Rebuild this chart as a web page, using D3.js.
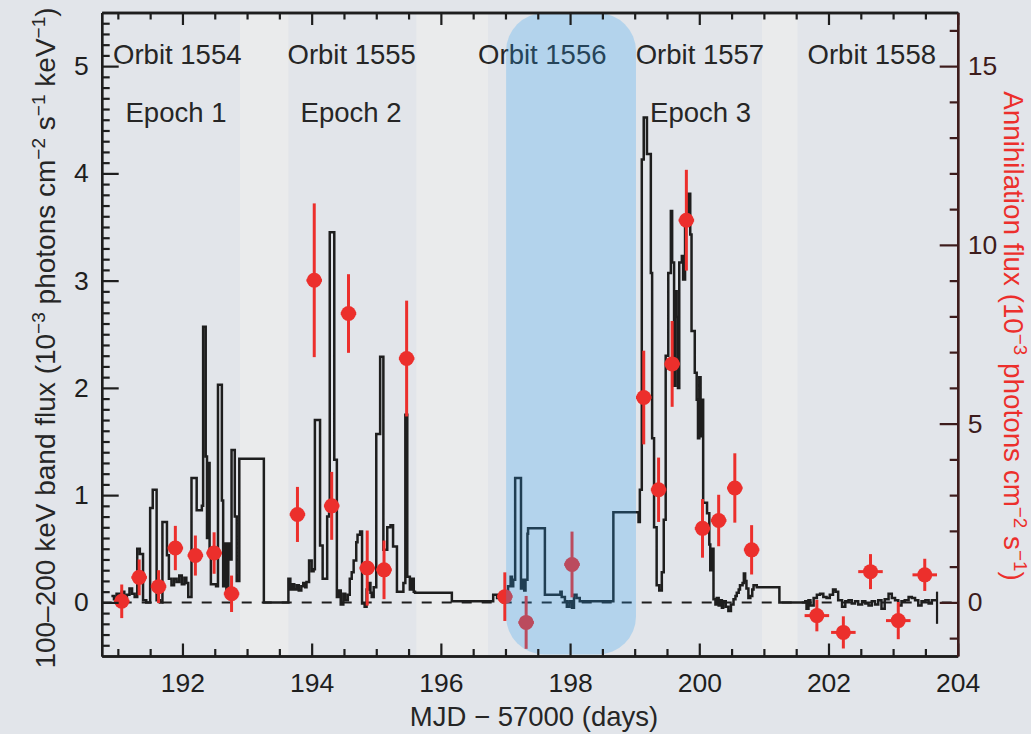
<!DOCTYPE html>
<html lang="en">
<head>
<meta charset="utf-8">
<script src="https://cdnjs.cloudflare.com/ajax/libs/d3/7.8.5/d3.min.js"></script>
<title>Light curve and annihilation flux</title>
<style>
body{margin:0;background:#e2e5ea;}
svg{display:block;font-family:"Liberation Sans",Arial,Helvetica,sans-serif;}
</style>
</head>
<body>
<div id="chart"></div>
<script>
// 100-200 keV band light curve, [MJD-57000, flux] (step bins)
const lightCurve = [
  [190.90,0.06],[190.94,0.03],[190.98,0.08],[191.02,0.05],[191.06,0.10],[191.10,0.02],[191.14,0.07],[191.18,0.13],[191.22,0.08],[191.26,0.05],
  [191.30,0.50],[191.34,0.45],[191.39,0.02],[191.44,0.00],[191.50,0.88],[191.54,1.05],[191.60,0.02],[191.65,0.00],
  [191.69,0.75],[191.76,0.44],[191.79,0.22],[191.83,0.16],[191.87,0.22],[191.91,0.19],[191.95,0.25],[191.99,0.17],[192.03,0.23],[192.06,0.18],[192.09,0.05],
  [192.14,1.16],[192.22,0.86],[192.30,0.90],[192.32,2.57],[192.36,1.36],[192.38,0.60],[192.40,1.30],[192.42,0.50],[192.44,0.17],[192.52,0.15],
  [192.55,2.03],[192.61,0.95],[192.63,0.15],[192.66,0.55],[192.68,0.12],[192.71,0.55],[192.73,0.40],
  [192.76,1.42],[192.81,0.80],[192.84,0.20],[192.88,1.34],[193.26,0.00],
  [193.64,0.22],[193.67,0.12],[193.70,0.17],[193.73,0.12],[193.77,0.16],[193.80,0.11],[193.84,0.15],[193.87,0.18],[193.90,0.14],[193.92,0.19],[193.96,0.39],[194.00,0.29],[194.03,0.31],
  [194.05,1.70],[194.13,0.53],[194.17,0.22],[194.24,0.80],[194.27,0.92],[194.28,3.45],[194.35,1.33],[194.39,0.05],[194.42,0.11],[194.45,-0.02],[194.49,0.08],[194.52,0.02],[194.56,0.07],
  [194.59,0.22],[194.62,0.28],[194.65,0.39],[194.69,0.56],[194.71,0.63],[194.75,0.66],[194.78,-0.01],[194.82,-0.04],[194.85,0.12],[194.88,0.18],[194.91,0.09],[194.93,0.05],[194.96,0.14],
  [195.00,1.57],[195.06,2.29],[195.11,0.49],[195.17,0.70],[195.22,0.72],[195.26,0.52],[195.32,0.10],[195.42,0.18],[195.45,1.75],[195.48,0.24],[195.52,0.12],[195.55,0.22],[195.58,0.10],[195.60,0.09],[196.17,0.01],
  [196.81,0.07],[196.87,0.04],[196.94,0.01],[197.00,0.08],[197.04,0.15],[197.08,0.24],[197.10,0.15],[197.12,0.21],[197.15,1.16],[197.24,0.13],[197.27,0.21],[197.29,0.11],[197.31,0.21],[197.34,0.64],[197.35,0.69],
  [197.61,0.07],[197.85,0.10],[197.87,0.05],[197.92,0.01],[197.95,-0.04],[197.99,0.01],[198.03,-0.05],[198.06,0.07],[198.10,0.04],[198.15,0.01],[198.67,0.84],
  [199.06,0.75],[199.08,1.05],[199.11,4.13],[199.14,4.52],[199.19,4.18],[199.25,3.07],[199.27,1.53],[199.30,0.70],[199.34,0.16],[199.38,0.11],[199.42,0.28],[199.45,0.77],[199.48,2.30],
  [199.52,3.07],[199.56,3.65],[199.58,3.17],[199.61,2.02],[199.63,2.90],[199.65,2.66],[199.67,2.00],[199.69,3.17],[199.73,3.23],[199.75,3.01],[199.78,3.56],[199.83,3.81],[199.86,3.43],
  [199.88,2.53],[199.93,2.14],[199.96,1.89],[199.98,1.53],[200.00,2.10],[200.02,1.55],[200.04,1.89],[200.06,0.93],[200.12,0.83],[200.155,0.54],[200.17,0.30],[200.19,0.50],
  [200.22,0.03],[200.25,-0.02],[200.27,0.04],[200.30,-0.03],[200.32,0.02],[200.35,-0.05],[200.37,0.01],[200.41,-0.04],[200.45,-0.08],[200.49,-0.02],[200.53,0.03],[200.56,0.06],
  [200.58,0.09],[200.61,0.12],[200.63,0.16],[200.67,0.18],[200.69,0.27],[200.71,0.20],[200.73,0.13],[200.76,0.04],[200.79,0.06],[200.82,0.12],[200.84,0.16],[200.89,0.14],[201.24,0.00],
  [201.64,0.01],[201.66,-0.06],[201.69,0.02],[201.72,-0.03],[201.77,0.04],[201.82,0.07],[201.87,0.08],[201.92,0.05],[201.97,0.04],[202.02,0.07],[202.07,0.12],[202.11,0.10],
  [202.15,0.02],[202.21,-0.04],[202.26,0.01],[202.31,0.02],[202.36,-0.01],[202.41,0.01],[202.46,-0.02],[202.52,0.01],[202.57,-0.01],[202.62,-0.03],[202.67,0.01],[202.72,-0.02],
  [202.77,0.02],[202.82,-0.06],[202.87,0.03],[202.93,0.08],[202.98,0.04],[203.03,0.02],[203.08,-0.03],[203.13,0.01],[203.18,0.02],[203.24,0.05],[203.29,0.04],[203.34,0.02],
  [203.39,-0.03],[203.44,0.01],[203.50,0.02],[203.55,-0.01],[203.60,0.02],[203.68,0.02]
];
// error bar on the last bin: [day, low, high]
const lcEndBar = [203.68, -0.20, 0.10];

// annihilation flux (right axis, 1e-3 photons cm-2 s-1)
const annDays = [191.06,191.33,191.63,191.89,192.20,192.49,192.76,193.78,194.04,194.31,194.57,194.86,195.12,195.47,196.99,197.32,198.03,
  199.14,199.37,199.58,199.80,200.05,200.30,200.55,200.81,201.82,202.23,202.65,203.08,203.49];
const annFlux = [0.03,0.70,0.44,1.52,1.31,1.38,0.24,2.46,9.01,2.70,8.08,0.96,0.91,6.82,0.16,-0.56,1.06,
  5.73,3.15,6.67,10.69,2.07,2.29,3.20,1.47,-0.37,-0.84,0.86,-0.51,0.77];
const annErr = [0.47,0.50,0.46,0.62,0.56,0.58,0.51,0.77,2.15,0.95,1.10,1.05,0.82,1.62,0.68,0.74,0.92,
  1.31,0.90,1.20,1.41,0.82,0.72,0.97,0.69,0.44,0.45,0.49,0.52,0.45];
const annDayErr = [0.12,0.12,0.12,0.12,0.12,0.12,0.12,0.12,0.12,0.12,0.12,0.12,0.12,0.12,0.12,0.12,0.12,
  0.12,0.12,0.12,0.12,0.12,0.12,0.12,0.12,0.19,0.19,0.19,0.19,0.19];

const gaps = [[192.89,193.64],[195.62,196.73],[200.97,201.52]];
const highlight = [197.01, 199.02];
const orbitNames = ["Orbit 1554","Orbit 1555","Orbit 1556","Orbit 1557","Orbit 1558"];
const orbitPos = [191.92, 194.62, 197.57, 200.01, 202.67];
const epochNames = ["Epoch 1","Epoch 2","Epoch 3"];
const epochPos = [191.90, 194.61, 200.02];
const xTickLabels = [192,194,196,198,200,202,204];
const leftTickLabels = [0,1,2,3,4,5];
const rightTickLabels = [0,5,10,15];

const W = 1031, H = 734;
const plot = {left: 101.7, right: 957.7, top: 12.5, bottom: 656};
const red = "#ec2f2c", ink = "#1e1e1e", maroon = "#3d1c1c";

const svg = d3.select("#chart").append("svg").attr("width", W).attr("height", H);

const x = d3.scaleLinear().domain([190.75, 204]).range([plot.left, plot.right]);
const yL = d3.scaleLinear().domain([-0.5, 5.5]).range([plot.bottom, plot.top]);
const yR = d3.scaleLinear().domain([-1.5, 16.5]).range([plot.bottom, plot.top]);

svg.append("rect").attr("width", W).attr("height", H).attr("fill", "#e2e5ea");

// lighter bands between orbits
svg.selectAll(".gap")
  .data(gaps)
  .enter()
  .append("rect")
  .attr("class","gap")
  .attr("x", function(d){return x(d[0]);})
  .attr("width", function(d){return x(d[1]) - x(d[0]);})
  .attr("y", plot.top)
  .attr("height", plot.bottom - plot.top)
  .attr("fill", "#eaebec");

// zero level
svg.append("line")
  .attr("x1", plot.left).attr("x2", plot.right)
  .attr("y1", yL(0)).attr("y2", yL(0))
  .attr("stroke", ink).attr("stroke-width", 2)
  .attr("stroke-dasharray", "10,10");

// text labels
svg.selectAll(".orbit")
  .data(orbitNames)
  .enter()
  .append("text")
  .attr("class","orbit")
  .attr("x", function(d,i){return x(orbitPos[i]);})
  .attr("y", 64)
  .attr("text-anchor","middle")
  .attr("font-size", 27.5)
  .attr("fill", "#262626")
  .text(function(d){return d;});

svg.selectAll(".epoch")
  .data(epochNames)
  .enter()
  .append("text")
  .attr("class","epoch")
  .attr("x", function(d,i){return x(epochPos[i]);})
  .attr("y", 122)
  .attr("text-anchor","middle")
  .attr("font-size", 27.5)
  .attr("fill", "#262626")
  .text(function(d){return d;});

// light curve
const line = d3.line()
  .x(function(d){return x(d[0]);})
  .y(function(d){return yL(d[1]);})
  .curve(d3.curveStepAfter);

svg.append("path")
  .datum(lightCurve)
  .attr("d", line)
  .attr("fill","none")
  .attr("stroke", ink)
  .attr("stroke-width", 2.5);

svg.append("line")
  .attr("x1", x(lcEndBar[0])).attr("x2", x(lcEndBar[0]))
  .attr("y1", yL(lcEndBar[1])).attr("y2", yL(lcEndBar[2]))
  .attr("stroke", ink).attr("stroke-width", 2.2);

// annihilation points
const ann = annDays.map(function(d,i){
  return {day: d, flux: annFlux[i], err: annErr[i], dErr: annDayErr[i]};
});
const pts = svg.append("g").attr("id","annihilation");

pts.selectAll(".vbar")
  .data(ann)
  .enter()
  .append("line")
  .attr("x1", function(d){return x(d.day);})
  .attr("x2", function(d){return x(d.day);})
  .attr("y1", function(d){return yR(d.flux - d.err);})
  .attr("y2", function(d){return yR(d.flux + d.err);})
  .attr("stroke", red).attr("stroke-width", 3);

pts.selectAll(".hbar")
  .data(ann)
  .enter()
  .append("line")
  .attr("x1", function(d){return x(d.day - d.dErr);})
  .attr("x2", function(d){return x(d.day + d.dErr);})
  .attr("y1", function(d){return yR(d.flux);})
  .attr("y2", function(d){return yR(d.flux);})
  .attr("stroke", red).attr("stroke-width", 3);

pts.selectAll("circle")
  .data(ann)
  .enter()
  .append("circle")
  .attr("cx", function(d){return x(d.day);})
  .attr("cy", function(d){return yR(d.flux);})
  .attr("r", 7.5)
  .attr("fill", red);

// axis titles with superscripts
function addTitle(parts, tx, ty, rot, color, fs){
  const t = svg.append("text")
    .attr("transform", "translate(" + tx + "," + ty + ") rotate(" + rot + ")")
    .attr("text-anchor","middle")
    .attr("font-size", fs)
    .attr("fill", color);
  let raised = false;
  parts.forEach(function(p){
    if (p[1]) {
      t.append("tspan").attr("dy", raised ? 0 : -10).attr("font-size", fs * 0.68).text(p[0]);
      raised = true;
    } else {
      t.append("tspan").attr("dy", raised ? 10 : 0).text(p[0]);
      raised = false;
    }
  });
}

addTitle([["100–200 keV band flux (10",0],["−3",1],[" photons cm",0],["−2",1],[" s",0],["−1",1],[" keV",0],["−1",1],[")",0]],
  55, 338, -90, "#262626", 28);
addTitle([["Annihilation flux (10",0],["−3",1],[" photons cm",0],["−2",1],[" s",0],["−1",1],[")",0]],
  1004, 336, 90, red, 27.8);
addTitle([["MJD − 57000 (days)",0]], 534, 726, 0, "#262626", 27.5);

// highlighted orbit 1556 interval, laid over the data
svg.append("rect")
  .attr("x", x(highlight[0]))
  .attr("width", x(highlight[1]) - x(highlight[0]))
  .attr("y", plot.top + 0.5)
  .attr("height", 654 - plot.top)
  .attr("rx", 38).attr("ry", 38)
  .attr("fill", "rgb(40,160,245)")
  .attr("fill-opacity", 0.25);

// axes: inward major + minor ticks, labels on major only
const fmt = d3.format("d");
function drawAxis(makeAxis, transform, color, major, minor, majorLen, minorLen, pad, labels){
  const gMinor = svg.append("g").attr("transform", transform)
    .call(makeAxis().tickValues(minor).tickSize(-minorLen).tickSizeOuter(0).tickFormat(function(){return "";}));
  const gMajor = svg.append("g").attr("transform", transform)
    .call(makeAxis().tickValues(major).tickSize(-majorLen).tickSizeOuter(0).tickPadding(pad)
      .tickFormat(labels ? fmt : function(){return "";}));
  [gMinor, gMajor].forEach(function(g){
    g.attr("color", color);
    g.selectAll("line").style("stroke", color).style("stroke-width", "2.2px");
    g.selectAll("path").style("stroke", color).style("stroke-width", "2.4px");
    g.selectAll("text").attr("fill", color).attr("font-size", 26.5)
      .attr("font-family", "'Liberation Sans', Arial, Helvetica, sans-serif");
  });
}

const xMinor = d3.range(2 * 191, 2 * 204 + 1).filter(function(v){return v % 4 !== 0;}).map(function(v){return v / 2;});
const yLMinor = d3.range(-4, 55).filter(function(v){return v % 10 !== 0;}).map(function(v){return v / 10;});
const yRMinor = d3.range(-1, 17).filter(function(v){return v % 5 !== 0;});

drawAxis(function(){return d3.axisBottom(x);}, "translate(0," + plot.bottom + ")", ink, xTickLabels, xMinor, 12.5, 7, 17, true);
drawAxis(function(){return d3.axisTop(x);}, "translate(0," + plot.top + ")", ink, xTickLabels, xMinor, 12.5, 7, 0, false);
drawAxis(function(){return d3.axisLeft(yL);}, "translate(" + plot.left + ",0)", ink, leftTickLabels, yLMinor, 17, 8, 13, true);
drawAxis(function(){return d3.axisRight(yR);}, "translate(" + plot.right + ",0)", maroon, rightTickLabels, yRMinor, 18, 8, 10, true);
</script>
</body>
</html>
